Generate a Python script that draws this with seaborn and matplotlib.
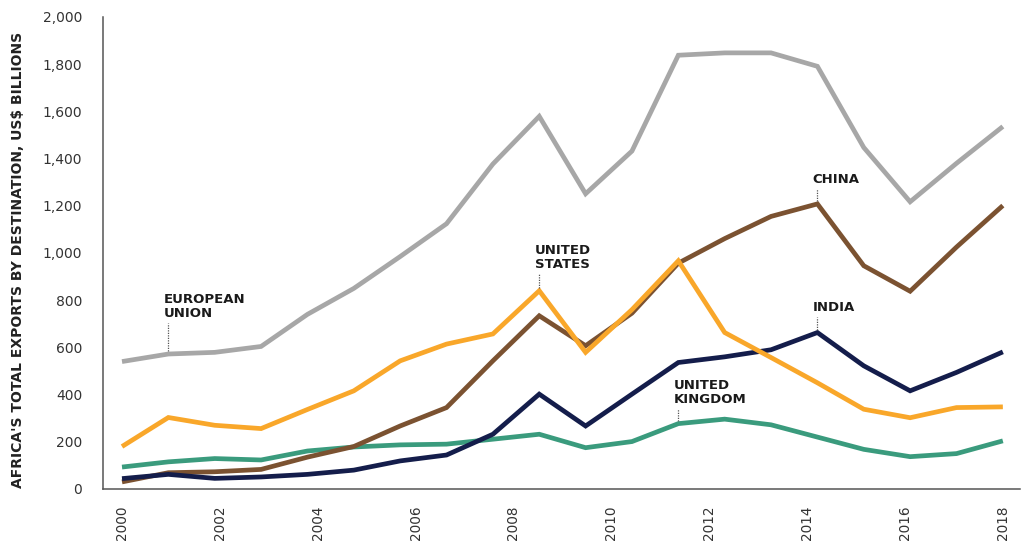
import numpy as np
import pandas as pd
import matplotlib
matplotlib.use("Agg")
import matplotlib.pyplot as plt
import seaborn as sns
from matplotlib.ticker import FixedLocator, FuncFormatter

# ---- data (US$ billions), 20 observations spanning the 2000-2018 axis ----
n_points = 20
eu    = [540, 572, 579, 604, 740, 850, 985, 1124, 1377, 1579, 1251, 1432, 1838, 1848, 1848, 1791, 1447, 1217, 1380, 1536]
china = [30, 69, 73, 83, 135, 180, 267, 345, 543, 734, 607, 745, 957, 1061, 1155, 1208, 946, 838, 1025, 1201]
usa   = [180, 303, 270, 256, 337, 416, 543, 614, 657, 840, 579, 760, 967, 663, 557, 450, 338, 302, 345, 348]
india = [44, 62, 45, 51, 62, 80, 119, 144, 232, 402, 267, 402, 536, 560, 590, 663, 522, 416, 494, 581]
uk    = [93, 115, 129, 123, 161, 178, 187, 190, 211, 232, 175, 201, 277, 296, 272, 220, 168, 137, 150, 204]

series_names = ["European Union", "United Kingdom", "China", "India", "United States"]
series_vals = [eu, uk, china, india, usa]
colors = ["#a7a7a7", "#3a9b7d", "#7b5231", "#141d4b", "#f9a72a"]

year_labels = ["2000", "2002", "2004", "2006", "2008", "2010", "2012", "2014", "2016", "2018"]
y_ticks = [0, 200, 400, 600, 800, 1000, 1200, 1400, 1600, 1800, 2000]
y_label = "AFRICA'S TOTAL EXPORTS BY DESTINATION, US$ BILLIONS"

# annotations: (text, series, index, lead length in data units)
annotations = [
    ("EUROPEAN\nUNION", eu, 1, 133),
    ("UNITED\nSTATES", usa, 9, 73),
    ("UNITED\nKINGDOM", uk, 12, 63),
    ("CHINA", china, 15, 65),
    ("INDIA", india, 15, 67),
]

rows = []
for name, vals in zip(series_names, series_vals):
    for i, v in enumerate(vals):
        rows.append({"idx": i, "value": v, "series": name})
df = pd.DataFrame(rows)

sns.set_style("white")
plt.rcParams["font.family"] = ["DejaVu Sans"]

fig = plt.figure(figsize=(10.22, 5.42), dpi=100)
ax = fig.add_axes([103 / 1022, 1 - 489 / 542, (1020 - 103) / 1022, (489 - 17) / 542])

sns.lineplot(data=df, x="idx", y="value", hue="series", hue_order=series_names,
             palette=colors, linewidth=3.4, ax=ax, legend=False, sort=False)
for line in ax.lines:
    line.set_solid_joinstyle("miter")
    line.set_solid_capstyle("butt")

ax.set_xlim(-0.41, 19.37)
ax.set_ylim(0, 2000)

# spines
for s in ["top", "right"]:
    ax.spines[s].set_visible(False)
for s in ["left", "bottom"]:
    ax.spines[s].set_color("#555555")
    ax.spines[s].set_linewidth(1.1)

# y ticks
ax.yaxis.set_major_locator(FixedLocator(y_ticks))
ax.yaxis.set_major_formatter(FuncFormatter(lambda v, p: f"{int(v):,}"))
ax.tick_params(axis="y", direction="in", length=9, width=1.0, color="#666666",
               pad=15, labelsize=10, labelcolor="#333333")

# x ticks: minor tick marks, labels spread across the data span
label_pos = np.linspace(0, n_points - 1, len(year_labels))
ax.xaxis.set_major_locator(FixedLocator(label_pos))
ax.set_xticklabels(year_labels, rotation=90)
ax.xaxis.set_minor_locator(FixedLocator(np.arange(n_points - 1) + 0.567))
ax.tick_params(axis="x", which="major", length=0, pad=12, labelsize=9.8, labelcolor="#333333")
ax.tick_params(axis="x", which="minor", direction="in", length=8, width=1.0, color="#666666")

ax.set_xlabel("")
ax.set_ylabel("")
fig.text(18 / 1022, 1 - 260 / 542, y_label, rotation=90, ha="center", va="center",
         fontsize=10, fontweight="bold", color="#222222")

# annotations with dotted leaders
for text, vals, i, lead in annotations:
    v = vals[i]
    ax.plot([i, i], [v + 12, v + lead], linestyle=(0, (1, 1)), color="#555555", linewidth=0.9)
    ax.text(i - 0.1, v + lead + 10, text, ha="left", va="bottom", fontsize=9.5,
            fontweight="bold", color="#1a1a1a", linespacing=1.15)

fig.savefig("out.png", dpi=100)
